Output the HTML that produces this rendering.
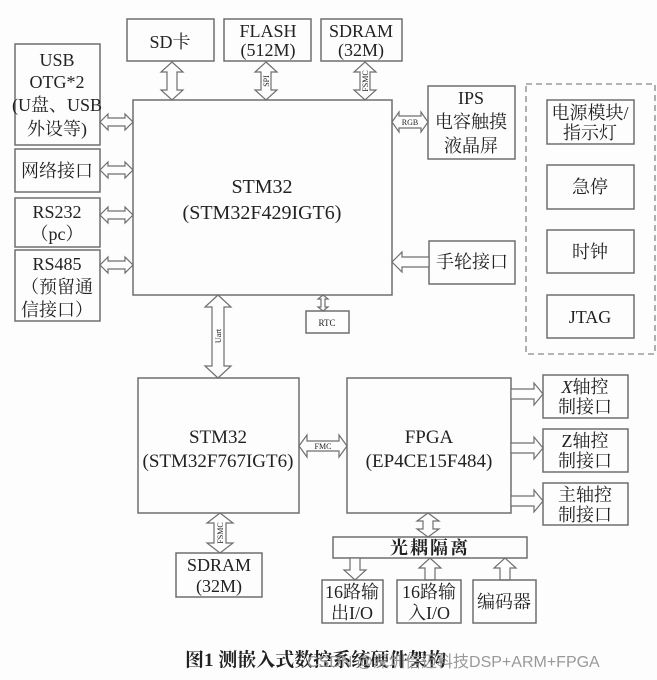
<!DOCTYPE html>
<html><head><meta charset="utf-8"><style>
html,body{margin:0;padding:0;background:#fdfdfd;}
svg{display:block;}
text{font-family:"Liberation Serif","Noto Serif CJK SC",serif;fill:#222;}
.b{fill:none;stroke:#6f6f6f;stroke-width:1.5;}
.a{fill:#fdfdfd;stroke:#6f6f6f;stroke-width:1.2;}
.t{font-size:18px;text-anchor:middle;}
.s{font-size:9px;text-anchor:middle;}
</style></head><body>
<svg width="657" height="680" viewBox="0 0 657 680">
<rect width="657" height="680" fill="#fdfdfd"/>
<rect class="b" x="127" y="19" width="87" height="42"/>
<text class="t" x="170" y="48">SD卡</text>
<rect class="b" x="224" y="19" width="87" height="42"/>
<text class="t" x="268" y="37">FLASH</text><text class="t" x="268" y="56">(512M)</text>
<rect class="b" x="321" y="19" width="81" height="42"/>
<text class="t" x="361" y="37">SDRAM</text><text class="t" x="361" y="56">(32M)</text>
<rect class="b" x="133" y="100" width="259" height="195"/>
<text class="t" x="262" y="193" style="font-size:20px">STM32</text>
<text class="t" x="262" y="219" style="font-size:20px">(STM32F429IGT6)</text>
<rect class="b" x="15" y="44" width="85" height="101"/>
<text class="t" x="57" y="66">USB</text><text class="t" x="57" y="88">OTG*2</text>
<text class="t" x="57" y="111">(U盘、USB</text><text class="t" x="57" y="135">外设等)</text>
<rect class="b" x="15" y="149" width="85" height="43"/>
<text class="t" x="57" y="177">网络接口</text>
<rect class="b" x="15" y="198" width="85" height="49"/>
<text class="t" x="57" y="218">RS232</text><text class="t" x="57" y="240">（pc）</text>
<rect class="b" x="15" y="250" width="85" height="71"/>
<text class="t" x="57" y="270">RS485</text><text class="t" x="57" y="293">（预留通</text><text class="t" x="57" y="316">信接口）</text>
<polygon class="a" points="100,122 108,114 108,118 125,118 125,114 133,122 125,130 125,126 108,126 108,130"/>
<polygon class="a" points="100,170 108,162 108,166 125,166 125,162 133,170 125,178 125,174 108,174 108,178"/>
<polygon class="a" points="100,215 108,207 108,211 125,211 125,207 133,215 125,223 125,219 108,219 108,223"/>
<polygon class="a" points="100,265 108,257 108,261 125,261 125,257 133,265 125,273 125,269 108,269 108,273"/>
<polygon class="a" points="172,62 183,72 177,72 177,90 183,90 172,100 161,90 167,90 167,72 161,72"/>
<polygon class="a" points="266,62 277,72 271,72 271,90 277,90 266,100 255,90 261,90 261,72 255,72"/>
<text class="s" transform="translate(269,81) rotate(-90)" style="font-size:8px">SPI</text>
<polygon class="a" points="365,62 376,72 370,72 370,90 376,90 365,100 354,90 360,90 360,72 354,72"/>
<text class="s" transform="translate(368,81) rotate(-90)" style="font-size:8px">FSMC</text>
<rect class="b" x="428" y="86" width="87" height="73"/>
<text class="t" x="471" y="104">IPS</text><text class="t" x="471" y="128">电容触摸</text><text class="t" x="471" y="152">液晶屏</text>
<polygon class="a" points="392,122 399,112 399,116 421,116 421,112 428,122 421,132 421,128 399,128 399,132"/>
<text class="s" x="410" y="125" style="font-size:8px">RGB</text>
<rect class="b" x="429" y="241" width="86" height="43"/>
<text class="t" x="472" y="268">手轮接口</text>
<polygon class="a" points="392,262 402,252 402,257 429,257 429,267 402,267 402,272"/>
<rect class="b" x="306" y="311" width="43" height="22"/>
<text class="s" x="327" y="326">RTC</text>
<polygon class="a" points="323,295 328,299 325,299 325,307 328,307 323,311 318,307 321,307 321,299 318,299"/>
<rect x="526" y="84" width="129" height="270" fill="none" stroke="#888" stroke-width="1.3" stroke-dasharray="6,4"/>
<rect class="b" x="547" y="100" width="87" height="44"/>
<text class="t" x="590" y="119">电源模块/</text><text class="t" x="590" y="139">指示灯</text>
<rect class="b" x="547" y="165" width="87" height="44"/>
<text class="t" x="590" y="193">急停</text>
<rect class="b" x="547" y="230" width="87" height="43"/>
<text class="t" x="590" y="258">时钟</text>
<rect class="b" x="547" y="295" width="87" height="43"/>
<text class="t" x="590" y="323">JTAG</text>
<polygon class="a" points="218,295 231,307 224,307 224,366 231,366 218,378 205,366 212,366 212,307 205,307"/>
<text class="s" transform="translate(221,336) rotate(-90)" style="font-size:8px">Uart</text>
<rect class="b" x="138" y="378" width="161" height="135"/>
<text class="t" x="218" y="443" style="font-size:19px">STM32</text>
<text class="t" x="218" y="467" style="font-size:19px">(STM32F767IGT6)</text>
<rect class="b" x="347" y="378" width="164" height="135"/>
<text class="t" x="429" y="443" style="font-size:19px">FPGA</text>
<text class="t" x="429" y="467" style="font-size:19px">(EP4CE15F484)</text>
<polygon class="a" points="299,446 307,435 307,441 339,441 339,435 347,446 339,457 339,451 307,451 307,457"/>
<text class="s" x="323" y="449" style="font-size:8px">FMC</text>
<rect class="b" x="543" y="375" width="85" height="43"/>
<text class="t" x="585" y="393"><tspan font-style="italic">X</tspan>轴控</text><text class="t" x="585" y="413">制接口</text>
<rect class="b" x="543" y="429" width="85" height="43"/>
<text class="t" x="585" y="447">Z轴控</text><text class="t" x="585" y="467">制接口</text>
<rect class="b" x="543" y="483" width="85" height="42"/>
<text class="t" x="585" y="501">主轴控</text><text class="t" x="585" y="521">制接口</text>
<polygon class="a" points="511,389 534,389 534,383 543,394 534,405 534,399 511,399"/>
<polygon class="a" points="511,443 534,443 534,437 543,448 534,459 534,453 511,453"/>
<polygon class="a" points="511,496 534,496 534,490 543,501 534,512 534,506 511,506"/>
<polygon class="a" points="220,513 233,523 226,523 226,543 233,543 220,553 207,543 214,543 214,523 207,523"/>
<text class="s" transform="translate(223,533) rotate(-90)" style="font-size:8px">FSMC</text>
<rect class="b" x="176" y="553" width="86" height="44"/>
<text class="t" x="219" y="571">SDRAM</text><text class="t" x="219" y="592">(32M)</text>
<polygon class="a" points="428,513 439,521 433,521 433,529 439,529 428,537 417,529 423,529 423,521 417,521"/>
<rect class="b" x="333" y="537" width="194" height="21"/>
<text class="t" x="430" y="554" style="font-weight:bold;letter-spacing:2px">光耦隔离</text>
<polygon class="a" points="350,558 360,558 360,570 366,570 355,580 344,570 350,570"/>
<polygon class="a" points="425,580 435,580 435,568 441,568 430,558 419,568 425,568"/>
<polygon class="a" points="500,580 510,580 510,568 516,568 505,558 494,568 500,568"/>
<rect class="b" x="322" y="580" width="61" height="43"/>
<text class="t" x="352" y="598">16路输</text><text class="t" x="352" y="619">出I/O</text>
<rect class="b" x="397" y="580" width="64" height="43"/>
<text class="t" x="429" y="598">16路输</text><text class="t" x="429" y="619">入I/O</text>
<rect class="b" x="473" y="580" width="63" height="43"/>
<text class="t" x="504" y="608">编码器</text>
<text x="185" y="666" style="font-size:19px;font-weight:bold;font-family:'Liberation Serif','Noto Serif CJK SC',serif">图1  测嵌入式数控系统硬件架构</text>
<text x="307" y="667" style="font-size:16px;fill:#999;font-family:'Liberation Sans','Noto Sans CJK SC',sans-serif">CSDN @深圳信迈科技DSP+ARM+FPGA</text>
</svg>
</body></html>
